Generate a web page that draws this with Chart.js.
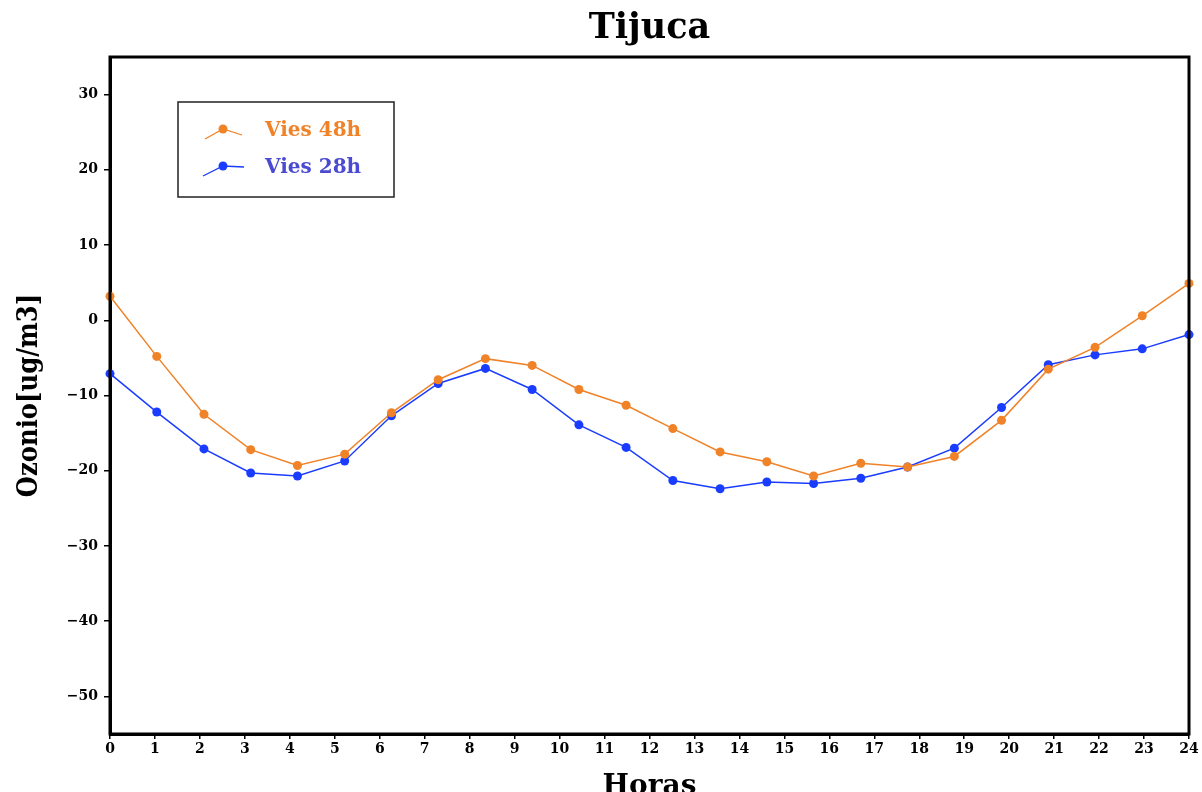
<!DOCTYPE html>
<html>
<head>
<meta charset="utf-8">
<script src="https://cdn.jsdelivr.net/npm/chart.js@4"></script>
<style>
  html, body { margin: 0; padding: 0; background: #ffffff; }
  #wrap { width: 1202px; height: 792px; position: relative; }
</style>
</head>
<body>
<div id="wrap"><canvas id="c" width="1202" height="792"></canvas></div>
<script>
// ---- data ----
const chartTitle = "Tijuca";
const xAxisTitle = "Horas";
const yAxisTitle = "Ozonio[ug/m3]";
const hours = [0, 1.04, 2.09, 3.13, 4.17, 5.22, 6.26, 7.30, 8.35, 9.39, 10.43, 11.48,
               12.52, 13.57, 14.61, 15.65, 16.70, 17.74, 18.78, 19.83, 20.87, 21.91, 22.96, 24];
const vies48Label = "Vies 48h";
const vies48 = [3.2, -4.8, -12.5, -17.2, -19.3, -17.8, -12.3, -7.9, -5.1, -6.0, -9.2, -11.3,
                -14.4, -17.5, -18.8, -20.7, -19.0, -19.5, -18.1, -13.3, -6.5, -3.6, 0.6, 4.9];
const vies28Label = "Vies 28h";
const vies28 = [-7.1, -12.2, -17.1, -20.3, -20.7, -18.7, -12.7, -8.4, -6.4, -9.2, -13.9, -16.9,
                -21.3, -22.4, -21.5, -21.7, -21.0, -19.5, -17.0, -11.6, -5.9, -4.6, -3.8, -1.9];
const xTicks = [0,1,2,3,4,5,6,7,8,9,10,11,12,13,14,15,16,17,18,19,20,21,22,23,24];
const yTicks = [-50, -40, -30, -20, -10, 0, 10, 20, 30];
const yMin = -55, yMax = 35;

// ---- styles ----
const ORANGE = "#f08228";
const BLUE = "#1a3cff";
const BLUE_TEXT = "#4a4ad2";
const FONT = "'DejaVu Serif', serif";

function pairs(xs, ys) { return ys.map((y, i) => ({ x: xs[i], y: y })); }

const framePlugin = {
  id: "frame",
  afterDatasetsDraw(chart) {
    const a = chart.chartArea, ctx = chart.ctx;
    ctx.save();
    ctx.strokeStyle = "#000";
    ctx.lineWidth = 3;
    ctx.strokeRect(a.left, a.top, a.right - a.left, a.bottom - a.top);
    ctx.restore();
  }
};

const legendBoxPlugin = {
  id: "legendBox",
  afterDraw(chart) {
    const a = chart.chartArea, ctx = chart.ctx;
    const bx = a.left + 68, by = a.top + 45, bw = 216, bh = 95;
    ctx.save();
    ctx.strokeStyle = "#222";
    ctx.lineWidth = 1.5;
    ctx.strokeRect(bx, by, bw, bh);
    const entries = [
      { ds: chart.data.datasets[0], y: by + 27, text: ORANGE, seg: [[-18, 10], [0, 0], [19, 6]] },
      { ds: chart.data.datasets[1], y: by + 64, text: BLUE_TEXT, seg: [[-20, 10], [0, 0], [21, 1]] }
    ];
    const mx = bx + 45;
    entries.forEach(e => {
      ctx.strokeStyle = e.ds.borderColor;
      ctx.lineWidth = 1.3;
      ctx.beginPath();
      e.seg.forEach((p, i) => {
        if (i === 0) ctx.moveTo(mx + p[0], e.y + p[1]); else ctx.lineTo(mx + p[0], e.y + p[1]);
      });
      ctx.stroke();
      ctx.fillStyle = e.ds.pointBackgroundColor;
      ctx.beginPath();
      ctx.arc(mx, e.y, 4.5, 0, Math.PI * 2);
      ctx.fill();
      ctx.fillStyle = e.text;
      ctx.font = "bold 20px " + FONT;
      ctx.textBaseline = "middle";
      ctx.textAlign = "left";
      ctx.fillText(e.ds.label, bx + 87, e.y + 2);
    });
    ctx.restore();
  }
};

const fmt = v => String(v).replace("-", "\u2212");

new Chart(document.getElementById("c"), {
  type: "line",
  data: {
    datasets: [
      {
        label: vies48Label,
        data: pairs(hours, vies48),
        borderColor: ORANGE,
        backgroundColor: ORANGE,
        pointBackgroundColor: ORANGE,
        pointBorderColor: ORANGE,
        borderWidth: 1.5,
        pointRadius: 4.5,
        pointBorderWidth: 0,
        tension: 0,
        clip: false
      },
      {
        label: vies28Label,
        data: pairs(hours, vies28),
        borderColor: BLUE,
        backgroundColor: BLUE,
        pointBackgroundColor: BLUE,
        pointBorderColor: BLUE,
        borderWidth: 1.5,
        pointRadius: 4.5,
        pointBorderWidth: 0,
        tension: 0,
        clip: false
      }
    ]
  },
  options: {
    responsive: false,
    animation: false,
    layout: { padding: { left: 0, right: 13, top: 0, bottom: 0 } },
    plugins: {
      legend: { display: false },
      tooltip: { enabled: false },
      title: {
        display: true,
        fullSize: false,
        text: chartTitle,
        color: "#000",
        font: { family: FONT, size: 35, weight: "bold", lineHeight: 1.2 },
        padding: { top: 8, bottom: 7 }
      }
    },
    scales: {
      x: {
        type: "linear",
        min: 0,
        max: 24,
        afterFit: s => { s.height = 58; },
        afterBuildTicks: s => { s.ticks = xTicks.map(v => ({ value: v })); },
        ticks: {
          autoSkip: false,
          maxRotation: 0,
          color: "#000",
          padding: 2,
          font: { family: FONT, size: 14, weight: "bold" },
          callback: v => fmt(v)
        },
        grid: { display: true, drawOnChartArea: false, drawTicks: true, tickLength: 5, color: "#000", lineWidth: 1.5 },
        border: { display: true, color: "#000", width: 3 },
        title: {
          display: true,
          text: xAxisTitle,
          color: "#000",
          font: { family: FONT, size: 28, weight: "bold", lineHeight: 1 },
          padding: { top: 0, bottom: -9 }
        }
      },
      y: {
        type: "linear",
        min: yMin,
        max: yMax,
        afterFit: s => { s.width = 110; },
        afterBuildTicks: s => { s.ticks = yTicks.map(v => ({ value: v })); },
        ticks: {
          color: "#000",
          padding: 6,
          font: { family: FONT, size: 14, weight: "bold" },
          callback: v => fmt(v)
        },
        grid: { display: true, drawOnChartArea: false, drawTicks: true, tickLength: 6, color: "#000", lineWidth: 1.5 },
        border: { display: true, color: "#000", width: 3 },
        title: {
          display: true,
          text: yAxisTitle,
          color: "#000",
          font: { family: "'DejaVu Serif Condensed', 'DejaVu Serif', serif", size: 27, weight: "bold", lineHeight: 1 },
          padding: { top: 16, bottom: 0 }
        }
      }
    }
  },
  plugins: [framePlugin, legendBoxPlugin]
});
</script>
</body>
</html>
